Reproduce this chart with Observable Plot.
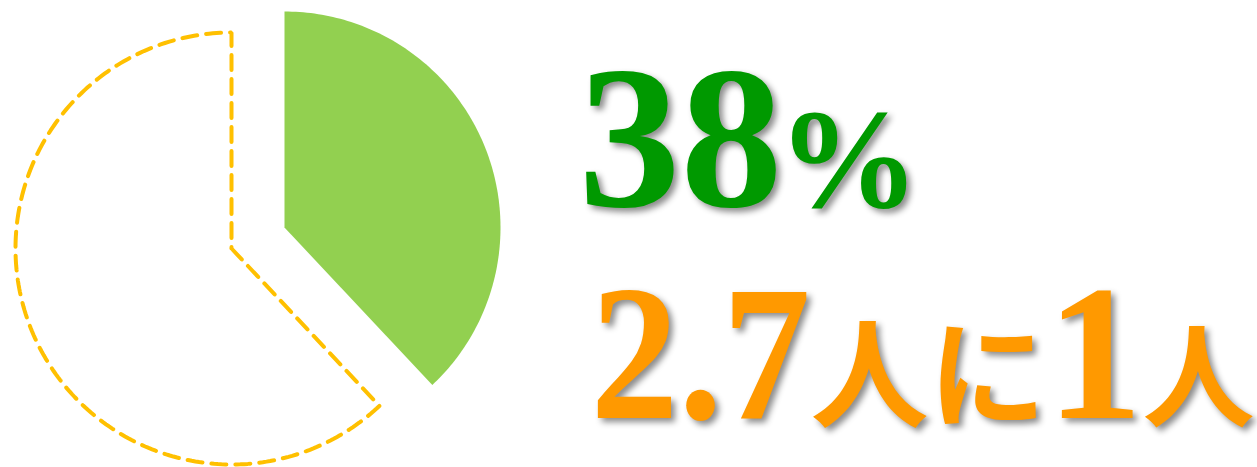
<!DOCTYPE html>
<html>
<head>
<meta charset="utf-8">
<script src="https://cdn.jsdelivr.net/npm/d3@7"></script>
<script src="https://cdn.jsdelivr.net/npm/@observablehq/plot@0.6"></script>
<style>
  html, body { margin: 0; padding: 0; background: #ffffff; }
  #chart { width: 1257px; height: 467px; overflow: hidden; }
</style>
</head>
<body>
<div id="chart"></div>
<script>
// ---- data ----
const sliceNames = ["該当", "非該当"];
const shares = [38, 62];          // percent
const pctLabels = ["38", "%"];
const ratioLabels = ["2.7", "人に", "1", "人"];

// ---- geometry (pixel space through identity-like linear scales) ----
const W = 1257, H = 467;
const cx = 231, cy = 248, R = 216, explode = 57;

const arcs = d3.pie().sort(null).value(d => d)(shares);
const rows = [];
arcs.forEach((a, i) => {
  const mid = (a.startAngle + a.endAngle) / 2;
  const ox = i === 0 ? explode * Math.sin(mid) : 0;
  const oy = i === 0 ? -explode * Math.cos(mid) : 0;
  const c = [cx + ox, cy + oy];
  const name = sliceNames[i];
  rows.push({name, x: c[0], y: c[1]});
  const n = Math.max(2, Math.ceil((a.endAngle - a.startAngle) / (Math.PI / 180)));
  for (let k = 0; k <= n; k++) {
    const t = a.startAngle + (a.endAngle - a.startAngle) * k / n;
    rows.push({name, x: c[0] + R * Math.sin(t), y: c[1] - R * Math.cos(t)});
  }
  rows.push({name, x: c[0], y: c[1]});
});

const shadow = "drop-shadow(4px 4px 3px rgba(0,0,0,0.45))";
const serif = "'Liberation Serif', 'DejaVu Serif', serif";
const cjk = "'Noto Sans CJK JP', 'Noto Sans CJK SC', sans-serif";
const green = "#009900", orange = "#FF9900";

const plot = Plot.plot({
  width: W,
  height: H,
  margin: 0,
  x: {domain: [0, W], range: [0, W], axis: null},
  y: {domain: [0, H], range: [0, H], axis: null},
  style: {background: "#ffffff"},
  marks: [
    Plot.line(rows.filter(d => d.name === sliceNames[0]), {
      x: "x", y: "y", fill: "#92D050", stroke: "none"
    }),
    Plot.line(rows.filter(d => d.name === sliceNames[1]), {
      x: "x", y: "y", fill: "none", stroke: "#FFC000",
      strokeWidth: 4, strokeDasharray: "15,9", strokeLinejoin: "miter"
    }),
    Plot.text([pctLabels[0]], {x: 578, y: 205, text: d => d, textAnchor: "start", lineAnchor: "bottom",
      fontFamily: serif, fontWeight: "bold", fontSize: 204, fill: green, imageFilter: shadow}),
    Plot.text([pctLabels[1]], {x: 777, y: 206, text: d => d, textAnchor: "start", lineAnchor: "bottom",
      fontFamily: serif, fontWeight: "bold", fontSize: 142, fill: green, imageFilter: shadow}),
    Plot.text([ratioLabels[0]], {x: 590, y: 417, text: d => d, textAnchor: "start", lineAnchor: "bottom",
      fontFamily: serif, fontWeight: "bold", fontSize: 192, fill: orange, imageFilter: shadow}),
    Plot.text([ratioLabels[1]], {x: 810, y: 418, text: d => d, textAnchor: "start", lineAnchor: "bottom",
      fontFamily: cjk, fontWeight: "bold", fontSize: 118, fill: orange, imageFilter: shadow}),
    Plot.text([ratioLabels[2]], {x: 1094, y: 417, text: d => d, textAnchor: "middle", lineAnchor: "bottom",
      fontFamily: serif, fontWeight: "bold", fontSize: 192, fill: orange, imageFilter: shadow}),
    Plot.text([ratioLabels[3]], {x: 1142, y: 418, text: d => d, textAnchor: "start", lineAnchor: "bottom",
      fontFamily: cjk, fontWeight: "bold", fontSize: 112, fill: orange, imageFilter: shadow})
  ]
});
// tighten the "2.7" run a little so it does not run into the kanji
d3.select(plot).selectAll("text")
  .filter(function () { return this.textContent === ratioLabels[0]; })
  .attr("textLength", 220)
  .attr("lengthAdjust", "spacingAndGlyphs");
document.getElementById("chart").appendChild(plot);
</script>
</body>
</html>
